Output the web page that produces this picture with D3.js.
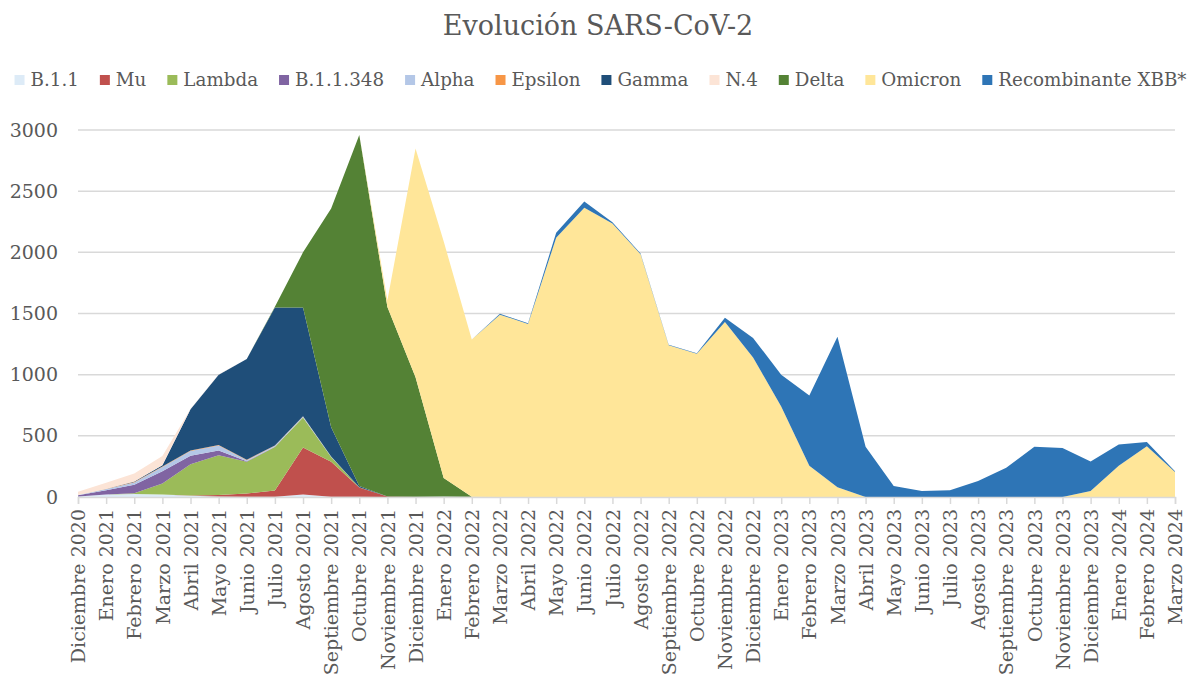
<!DOCTYPE html>
<html>
<head>
  <meta charset="utf-8">
  <title>Evolución SARS-CoV-2</title>
  <script src="https://d3js.org/d3.v7.min.js"></script>
  <style>
    body { margin: 0; background: #fff; }
    text { font-family: "DejaVu Serif", serif; fill: #595959; }
  </style>
</head>
<body>
  <div id="chart"></div>

  <script>
    // Months (categories)
    const months = [
      "Diciembre 2020",
      "Enero 2021", "Febrero 2021", "Marzo 2021", "Abril 2021", "Mayo 2021", "Junio 2021",
      "Julio 2021", "Agosto 2021", "Septiembre 2021", "Octubre 2021", "Noviembre 2021", "Diciembre 2021",
      "Enero 2022", "Febrero 2022", "Marzo 2022", "Abril 2022", "Mayo 2022", "Junio 2022",
      "Julio 2022", "Agosto 2022", "Septiembre 2022", "Octubre 2022", "Noviembre 2022", "Diciembre 2022",
      "Enero 2023", "Febrero 2023", "Marzo 2023", "Abril 2023", "Mayo 2023", "Junio 2023",
      "Julio 2023", "Agosto 2023", "Septiembre 2023", "Octubre 2023", "Noviembre 2023", "Diciembre 2023",
      "Enero 2024", "Febrero 2024", "Marzo 2024"
    ];

    // Series values per month (stacked bottom to top)
    const b11      = [5, 20, 25, 20, 10, 5, 3, 3, 20, 3, 2, 0, 3, 5, 3, 0, 0, 0, 0, 0, 0, 0, 0, 0, 0, 0, 0, 0, 0, 0, 0, 0, 0, 0, 0, 0, 0, 0, 0, 0];
    const mu       = [0, 0, 0, 0, 2, 12, 25, 50, 385, 285, 75, 5, 0, 0, 0, 0, 0, 0, 0, 0, 0, 0, 0, 0, 0, 0, 0, 0, 0, 0, 0, 0, 0, 0, 0, 0, 0, 0, 0, 0];
    const lambda   = [0, 0, 5, 90, 255, 325, 260, 355, 245, 40, 3, 0, 0, 0, 0, 0, 0, 0, 0, 0, 0, 0, 0, 0, 0, 0, 0, 0, 0, 0, 0, 0, 0, 0, 0, 0, 0, 0, 0, 0];
    const b11348   = [10, 35, 70, 100, 70, 38, 5, 3, 0, 0, 0, 0, 0, 0, 0, 0, 0, 0, 0, 0, 0, 0, 0, 0, 0, 0, 0, 0, 0, 0, 0, 0, 0, 0, 0, 0, 0, 0, 0, 0];
    const alpha    = [2, 11, 19, 35, 40, 40, 8, 8, 8, 3, 0, 0, 0, 0, 0, 0, 0, 0, 0, 0, 0, 0, 0, 0, 0, 0, 0, 0, 0, 0, 0, 0, 0, 0, 0, 0, 0, 0, 0, 0];
    const epsilon  = [0, 1, 3, 5, 4, 5, 3, 3, 2, 0, 0, 0, 0, 0, 0, 0, 0, 0, 0, 0, 0, 0, 0, 0, 0, 0, 0, 0, 0, 0, 0, 0, 0, 0, 0, 0, 0, 0, 0, 0];
    const gamma    = [0, 0, 5, 10, 336, 575, 824, 1128, 890, 239, 10, 0, 0, 0, 0, 0, 0, 0, 0, 0, 0, 0, 0, 0, 0, 0, 0, 0, 0, 0, 0, 0, 0, 0, 0, 0, 0, 0, 0, 0];
    const n4       = [25, 50, 65, 75, 3, 2, 0, 0, 0, 0, 0, 0, 0, 0, 0, 0, 0, 0, 0, 0, 0, 0, 0, 0, 0, 0, 0, 0, 0, 0, 0, 0, 0, 0, 0, 0, 0, 0, 0, 0];
    const delta    = [0, 0, 0, 0, 0, 0, 0, 5, 450, 1788, 2870, 1548, 975, 150, 0, 0, 0, 0, 0, 0, 0, 0, 0, 0, 0, 0, 0, 0, 0, 0, 0, 0, 0, 0, 0, 0, 0, 0, 0, 0];
    const omicron  = [0, 0, 0, 0, 0, 0, 0, 0, 0, 0, 0, 55, 1870, 1935, 1285, 1490, 1415, 2120, 2365, 2235, 1985, 1240, 1170, 1430, 1140, 740, 255, 80, 0, 0, 0, 0, 0, 0, 0, 0, 50, 255, 415, 205];
    const xbb      = [0, 0, 0, 0, 0, 0, 0, 0, 0, 0, 0, 0, 0, 0, 0, 8, 5, 40, 50, 10, 5, 5, 5, 35, 160, 260, 575, 1230, 410, 90, 50, 55, 130, 240, 410, 400, 240, 175, 35, 5];

    const seriesNames  = ["B.1.1", "Mu", "Lambda", "B.1.1.348", "Alpha", "Epsilon", "Gamma", "N.4", "Delta", "Omicron", "Recombinante XBB*"];
    const seriesValues = [b11, mu, lambda, b11348, alpha, epsilon, gamma, n4, delta, omicron, xbb];
    const seriesColors = ["#DDEBF7", "#C0504D", "#9BBB59", "#8064A2", "#B4C7E7", "#F79646", "#1F4E79", "#FCE4D6", "#548235", "#FFE699", "#2E75B6"];
    const yTicks = [0, 500, 1000, 1500, 2000, 2500, 3000];

    // Table for d3.stack
    const table = months.map((m, i) => {
      const row = { month: m };
      seriesNames.forEach((s, j) => { row[s] = seriesValues[j][i]; });
      return row;
    });

    const W = 1201, H = 679;
    const margin = { top: 130, right: 26, bottom: 182, left: 78 };

    const svg = d3.select("#chart")
      .append("svg")
        .attr("width", W)
        .attr("height", H);

    const x = d3.scalePoint()
      .domain(months)
      .range([margin.left, W - margin.right]);

    const y = d3.scaleLinear()
      .domain([0, 3000])
      .range([H - margin.bottom, margin.top]);

    const color = d3.scaleOrdinal()
      .domain(seriesNames)
      .range(seriesColors);

    // Title
    svg.append("text")
      .attr("x", 598)
      .attr("y", 35)
      .attr("text-anchor", "middle")
      .style("font-size", "27px")
      .text("Evolución SARS-CoV-2");

    // Gridlines
    svg.append("g")
      .selectAll("line")
      .data(yTicks)
      .join("line")
        .attr("x1", margin.left)
        .attr("x2", W - margin.right)
        .attr("y1", d => y(d))
        .attr("y2", d => y(d))
        .attr("stroke", "#d9d9d9")
        .attr("stroke-width", 1.5);

    // Y axis labels
    const yAxis = svg.append("g")
      .attr("transform", `translate(${margin.left - 8},0)`)
      .call(d3.axisLeft(y).tickValues(yTicks).tickSize(0).tickPadding(12).tickFormat(d3.format("d")));
    yAxis.select(".domain").remove();
    yAxis.selectAll("text")
      .style("font-family", "DejaVu Serif, serif")
      .style("font-size", "19px")
      .attr("fill", "#595959");

    // Stacked areas
    const stack = d3.stack().keys(seriesNames);
    const layers = stack(table);

    const area = d3.area()
      .x(d => x(d.data.month))
      .y0(d => y(d[0]))
      .y1(d => y(d[1]));

    svg.append("g")
      .selectAll("path")
      .data(layers)
      .join("path")
        .attr("d", area)
        .attr("fill", d => color(d.key));

    // X axis
    const xAxis = svg.append("g")
      .attr("transform", `translate(0,${y(0)})`)
      .call(d3.axisBottom(x).tickSize(7).tickPadding(6));
    xAxis.select(".domain")
      .attr("stroke", "#d9d9d9")
      .attr("stroke-width", 1.5);
    xAxis.selectAll(".tick line")
      .attr("stroke", "#d9d9d9")
      .attr("stroke-width", 1.5);
    xAxis.selectAll("text")
      .style("font-family", "DejaVu Serif, serif")
      .style("font-size", "19px")
      .attr("fill", "#595959")
      .attr("text-anchor", "end")
      .attr("transform", "rotate(-90)")
      .attr("x", -12)
      .attr("y", 0)
      .attr("dy", "0.35em");

    // Legend
    const legend = svg.append("g");
    let lx = 0;
    seriesNames.forEach(name => {
      const item = legend.append("g").attr("transform", `translate(${lx},0)`);
      item.append("rect")
        .attr("x", 0)
        .attr("y", -5)
        .attr("width", 10)
        .attr("height", 10)
        .attr("fill", color(name));
      const t = item.append("text")
        .attr("x", 16)
        .attr("y", 0)
        .attr("dy", "0.35em")
        .style("font-size", "18.3px")
        .text(name);
      lx += 16 + t.node().getComputedTextLength() + 21;
    });
    const legendW = lx - 21;
    legend.attr("transform", `translate(${(W - legendW) / 2},80)`);
  </script>
</body>
</html>
